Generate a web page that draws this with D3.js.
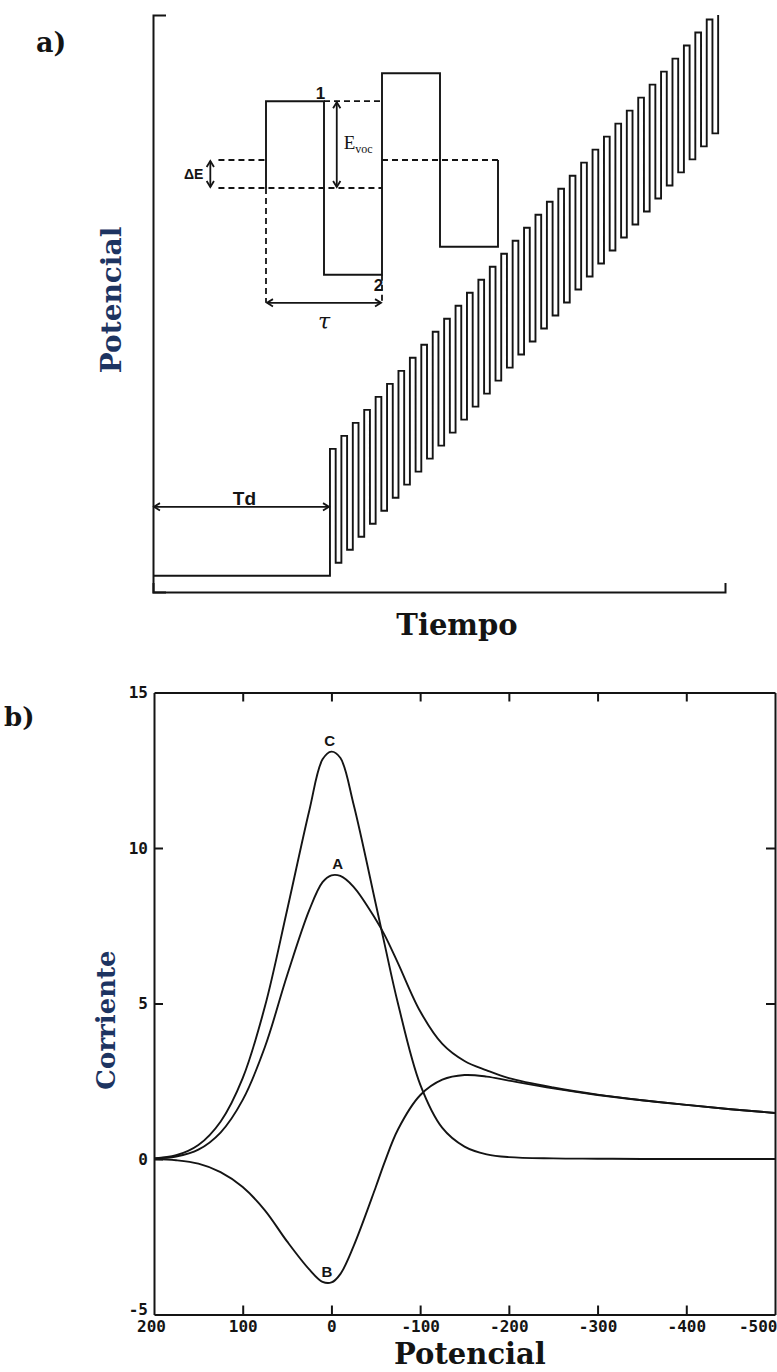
<!DOCTYPE html>
<html><head><meta charset="utf-8">
<script src="https://cdn.jsdelivr.net/npm/d3@7"></script>
<style>body{margin:0;background:#fff}svg{display:block}</style>
</head><body>
<svg id="c" width="777" height="1372"></svg>
<script>
// ===== Panel a) square-wave staircase (time in periods τ, potential in ΔE units)
const waveDelay = 15.5;        // Td (periods)
const wavePulses = 34;         // full pulses drawn after Td
const waveFirstTop = 9.75;     // first pulse top above E_init
const waveStep = 1;            // ΔE
const waveAmp = 8.75;          // 2·E_sw
const waveDuty = 0.5;
const timeDomain = [0, 50.1];
const potDomain = [-1.25, 43.1];

// inset (enlarged single cycles): staircase levels and E_sw in ΔE units
const insetLevels = [0, 1];
const insetEsw = 3.1;

// ===== Panel b) SWV currents
const potential = [200,175,150,125,100,75,50,25,10,0,-10,-25,-50,-60,-75,-100,-125,-150,-175,-200,-250,-300,-350,-400,-450,-500];
const curveA = [0.02,0.08,0.3,0.85,1.9,3.6,5.9,8.0,8.9,9.12,9.1,8.75,7.7,7.2,6.3,4.75,3.7,3.15,2.85,2.6,2.3,2.07,1.89,1.74,1.6,1.48];
const curveB = [0,-0.04,-0.15,-0.42,-0.9,-1.65,-2.65,-3.55,-3.95,-3.97,-3.7,-2.8,-0.9,-0.1,0.95,2.05,2.55,2.7,2.65,2.52,2.27,2.06,1.89,1.74,1.6,1.48];
const curveC = [0.02,0.12,0.45,1.2,2.6,4.9,8.0,11.2,12.85,13.1,12.9,11.4,8.2,6.9,5.0,2.4,1.0,0.4,0.15,0.06,0.02,0.01,0,0,0,0];
const xTickValues = [200,100,0,-100,-200,-300,-400,-500];
const xTickLabels = ["200","100","0","-100","-200","-300","-400","-500"];
const yTickValues = [-5,0,5,10,15];
const yTickLabels = ["-5","0","5","10","15"];

const svg = d3.select("#c");
const INK = "#141414";
const NAVY = "#1d3461";
const serif = "'DejaVu Serif', serif";
const sans = "'Liberation Sans', Arial, sans-serif";

// ---------- helpers
function arrowHead(g, x, y, ang) {
  const L = 7, a = 0.55;
  const p = d3.path();
  p.moveTo(x - L*Math.cos(ang - a), y - L*Math.sin(ang - a));
  p.lineTo(x, y);
  p.lineTo(x - L*Math.cos(ang + a), y - L*Math.sin(ang + a));
  g.append("path").attr("d", p.toString()).attr("fill","none").attr("stroke",INK).attr("stroke-width",1.8);
}
function dblArrow(g, x1, y1, x2, y2) {
  g.append("line").attr("x1",x1).attr("y1",y1).attr("x2",x2).attr("y2",y2)
    .attr("stroke",INK).attr("stroke-width",1.8);
  const ang = Math.atan2(y2-y1, x2-x1);
  arrowHead(g, x2, y2, ang);
  arrowHead(g, x1, y1, ang + Math.PI);
}

// ================= PANEL A =================
const gA = svg.append("g");
const xA = d3.scaleLinear().domain(timeDomain).range([153, 725]);
const yA = d3.scaleLinear().domain(potDomain).range([592, 15]);

gA.append("g").attr("transform",`translate(${xA(0)},0)`)
  .call(d3.axisLeft(yA).tickValues([]).tickSizeOuter(-13))
  .call(s=>s.select(".domain").attr("stroke",INK).attr("stroke-width",2));
gA.append("g").attr("transform",`translate(0,${yA(potDomain[0])})`)
  .call(d3.axisBottom(xA).tickValues([]).tickSizeOuter(-9))
  .call(s=>s.select(".domain").attr("stroke",INK).attr("stroke-width",2));

const wave = [[0,0],[waveDelay,0]];
for (let k = 0; k < wavePulses; k++) {
  const t0 = waveDelay + k, top = waveFirstTop + k*waveStep, bot = top - waveAmp;
  wave.push([t0, top],[t0+waveDuty, top],[t0+waveDuty, bot],[t0+1, bot]);
}
wave.push([waveDelay + wavePulses, Math.min(waveFirstTop + wavePulses*waveStep, potDomain[1])]);
gA.append("path").datum(wave)
  .attr("d", d3.line().x(d=>xA(d[0])).y(d=>yA(d[1])))
  .attr("fill","none").attr("stroke",INK).attr("stroke-width",1.9).attr("stroke-linejoin","miter");

const tdY = yA(5.3);
dblArrow(gA, xA(0)+1, tdY, xA(waveDelay)-1, tdY);
gA.append("text").attr("x", (xA(0)+xA(waveDelay))/2 + 3).attr("y", tdY-2)
  .attr("text-anchor","middle").attr("font-family",sans)
  .attr("font-weight","bold").attr("font-size",19).attr("fill",INK).text("Td");

// ---- inset
const xI = d3.scaleLinear().domain([0,1]).range([266, 382]);
const yI = d3.scaleLinear().domain([0,1]).range([188, 160]);
const L1 = insetLevels[0], L2 = insetLevels[1], E = insetEsw;
const inset = [[0,L1],[0,L1+E],[0.5,L1+E],[0.5,L1-E],[1,L1-E],[1,L2+E],[1.5,L2+E],[1.5,L2-E],[2,L2-E],[2,L2]];
gA.append("path").datum(inset)
  .attr("d", d3.line().x(d=>xI(d[0])).y(d=>yI(d[1])))
  .attr("fill","none").attr("stroke",INK).attr("stroke-width",1.9);

const tauLevel = -4.1;
const dashed = [
  [[-0.41,L2],[0,L2]],
  [[-0.41,L1],[1,L1]],
  [[0.5,L1+E],[1,L1+E]],
  [[1,L2],[2,L2]],
  [[0,L1],[0,tauLevel]],
  [[1,L1-E],[1,tauLevel]]
];
dashed.forEach(seg=>{
  gA.append("line").attr("x1",xI(seg[0][0])).attr("y1",yI(seg[0][1]))
    .attr("x2",xI(seg[1][0])).attr("y2",yI(seg[1][1]))
    .attr("stroke",INK).attr("stroke-width",1.8).attr("stroke-dasharray","6,4");
});
dblArrow(gA, xI(-0.48), yI(L2)+1, xI(-0.48), yI(L1)-1);
dblArrow(gA, xI(0.61), yI(L1+E)+1, xI(0.61), yI(L1)-1);
dblArrow(gA, xI(0)+1, yI(tauLevel), xI(1)-1, yI(tauLevel));

gA.append("text").attr("x", xI(-0.54)).attr("y", yI(0.5)+5).attr("text-anchor","end")
  .attr("font-family",sans).attr("font-weight","bold").attr("font-size",14).attr("fill",INK).text("ΔE");
gA.append("text").attr("x", xI(0.47)).attr("y", yI(L1+E)-2).attr("text-anchor","middle")
  .attr("font-family",sans).attr("font-weight","bold").attr("font-size",17).attr("fill",INK).text("1");
gA.append("text").attr("x", xI(0.97)).attr("y", yI(L1-E)+16).attr("text-anchor","middle")
  .attr("font-family",sans).attr("font-weight","bold").attr("font-size",17).attr("fill",INK).text("2");
gA.append("text").attr("x", xI(0.5)).attr("y", yI(tauLevel)+26).attr("text-anchor","middle")
  .attr("font-family",serif).attr("font-style","italic").attr("font-size",22).attr("fill",INK).text("τ");
const ev = gA.append("text").attr("x", xI(0.67)).attr("y", yI(1.4))
  .attr("font-family","'Liberation Serif', 'Times New Roman', serif").attr("font-size",19).attr("fill",INK);
ev.append("tspan").text("E");
ev.append("tspan").attr("dy",4).attr("font-size",12).text("voc");

svg.append("text").attr("x",36).attr("y",52).attr("font-family",serif).attr("font-weight","bold")
  .attr("font-size",27).attr("fill",INK).text("a)");
svg.append("text").attr("transform","translate(121,300) rotate(-90)").attr("text-anchor","middle")
  .attr("font-family",serif).attr("font-weight","bold").attr("font-size",28).attr("fill",NAVY).text("Potencial");
svg.append("text").attr("x",457).attr("y",635).attr("text-anchor","middle")
  .attr("font-family",serif).attr("font-weight","bold").attr("font-size",29).attr("fill",INK).text("Tiempo");

// ================= PANEL B =================
const gB = svg.append("g");
const xB = d3.scaleLinear().domain([200,-500]).range([154, 775]);
const yB = d3.scaleLinear().domain([-5,15]).range([1314.5, 692.5]);
const mono = "'DejaVu Sans Mono', monospace";

function styleAxis(s){
  s.select(".domain").attr("stroke",INK).attr("stroke-width",2);
  s.selectAll(".tick line").attr("stroke",INK).attr("stroke-width",2);
  s.selectAll(".tick text").attr("font-family",mono).attr("font-weight","bold").attr("font-size",16).attr("fill",INK);
}
const xInner = xTickValues.slice(1,-1);
gB.append("g").attr("transform",`translate(0,${yB(-5)})`)
  .call(d3.axisBottom(xB).tickValues(xTickValues).tickSizeInner(-9).tickSizeOuter(0).tickPadding(6)
        .tickFormat((d,i)=>xTickLabels[i]))
  .call(styleAxis)
  .call(s=>{
    s.selectAll(".tick").filter(d=>!xInner.includes(d)).select("line").remove();
    s.selectAll(".tick").filter(d=>d===-500).select("text").attr("text-anchor","end").attr("x",2);
    s.selectAll(".tick").filter(d=>d===200).select("text").attr("x",-3);
  });
gB.append("g").attr("transform",`translate(0,${yB(15)})`)
  .call(d3.axisTop(xB).tickValues(xInner).tickSizeInner(-9).tickSizeOuter(0).tickFormat(""))
  .call(styleAxis);
gB.append("g").attr("transform",`translate(${xB(200)},0)`)
  .call(d3.axisLeft(yB).tickValues(yTickValues).tickSizeInner(-9).tickSizeOuter(0).tickPadding(6)
        .tickFormat((d,i)=>yTickLabels[i]))
  .call(styleAxis)
  .call(s=>{
    s.selectAll(".tick").filter(d=>d===15||d===-5).select("line").remove();
    s.selectAll(".tick").filter(d=>d===-5).select("text").attr("dy","0.0em");
  });
gB.append("g").attr("transform",`translate(${xB(-500)},0)`)
  .call(d3.axisRight(yB).tickValues([5,10]).tickSizeInner(-9).tickSizeOuter(0).tickFormat(""))
  .call(styleAxis);

const line = d3.line().x(d=>xB(d[0])).y(d=>yB(d[1])).curve(d3.curveCatmullRom.alpha(0.5));
[curveA, curveB, curveC].forEach(arr=>{
  gB.append("path").datum(potential.map((p,i)=>[p,arr[i]]))
    .attr("d", line).attr("fill","none").attr("stroke",INK).attr("stroke-width",1.9);
});
const lbl = (t,x,y)=>gB.append("text").attr("x",x).attr("y",y).attr("text-anchor","middle")
  .attr("font-family",sans).attr("font-weight","bold").attr("font-size",15).attr("fill",INK).text(t);
lbl("C", xB(2), yB(13.1)-6);
lbl("A", xB(-7), yB(9.12)-6);
lbl("B", xB(5), yB(-3.97)-5);

svg.append("text").attr("x",4).attr("y",726).attr("font-family",serif).attr("font-weight","bold")
  .attr("font-size",26).attr("fill",INK).text("b)");
svg.append("text").attr("transform","translate(115,1020) rotate(-90)").attr("text-anchor","middle")
  .attr("font-family",serif).attr("font-weight","bold").attr("font-size",26).attr("fill",NAVY).text("Corriente");
svg.append("text").attr("x",470).attr("y",1364).attr("text-anchor","middle")
  .attr("font-family",serif).attr("font-weight","bold").attr("font-size",29).attr("fill",INK).text("Potencial");
</script>
</body></html>
